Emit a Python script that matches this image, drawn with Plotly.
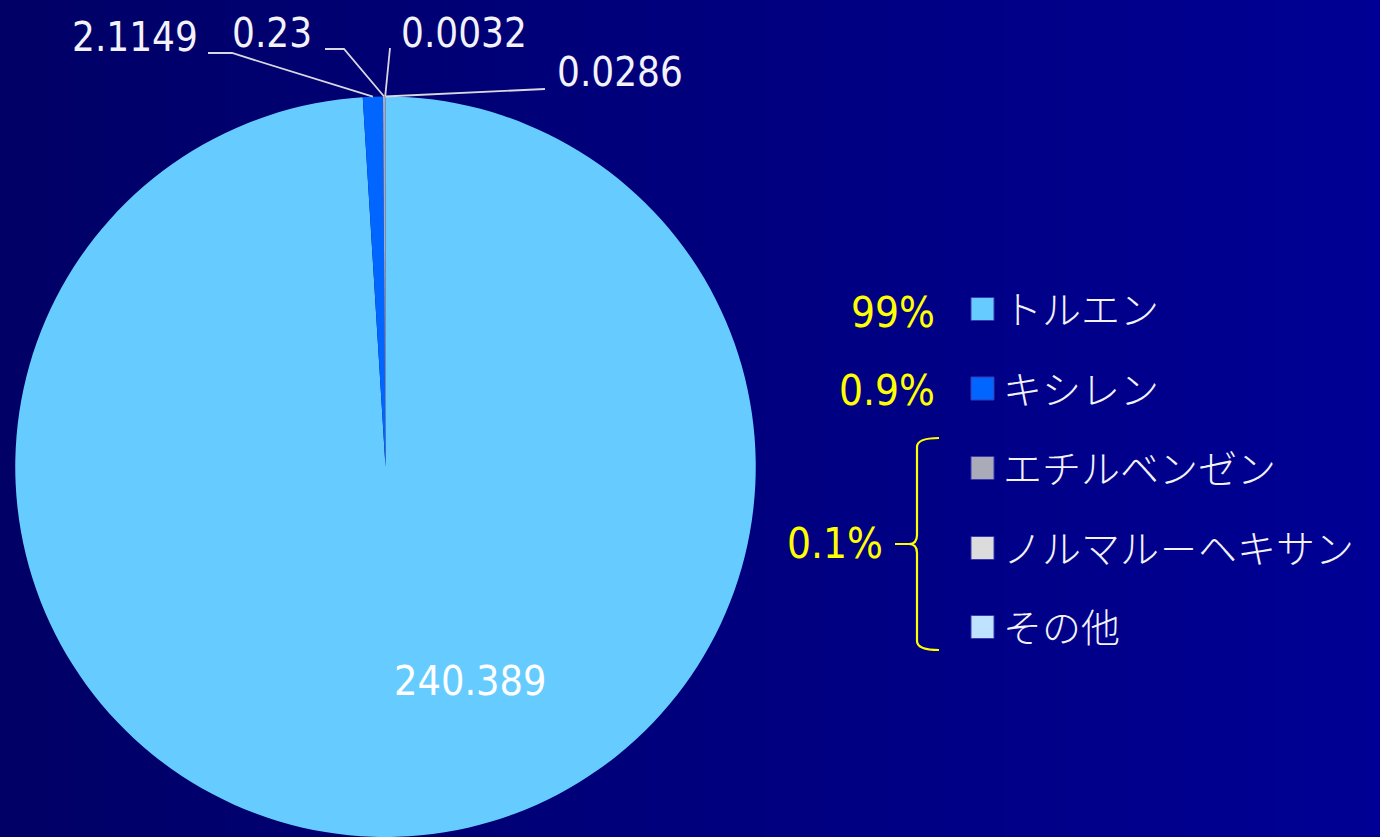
import math
import plotly.graph_objects as go

# --- data -------------------------------------------------------------
labels = ["トルエン", "キシレン", "エチルベンゼン", "ノルマル－ヘキサン", "その他"]
values = [240.389, 2.1149, 0.23, 0.0032, 0.0286]
colors = ["#66CCFF", "#0066FF", "#AAAAB9", "#DCDCDC", "#BFE3FF"]

# share labels: the first two items individually, the remaining three as one group
pct_groups = [[0], [1], [2, 3, 4]]

# --- layout constants (pixels) ----------------------------------------
W, H = 1380, 837
PIE_X0, PIE_X1 = 14, 757
PIE_TOP = 96.5
NUM_FONT = "DejaVu Sans Condensed, DejaVu Sans, sans-serif"
JP_FONT = "Noto Sans CJK JP, sans-serif"
TEXT_COLOR = "#F2F2F8"
YELLOW = "#FFFF00"

# pie geometry implied by its domain
pie_r = min(PIE_X1 - PIE_X0, H - PIE_TOP) / 2
pie_cx = (PIE_X0 + PIE_X1) / 2
pie_cy = H - pie_r

fig = go.Figure()

# invisible trace so the pixel-space cartesian axes exist for shapes/annotations
fig.add_trace(go.Scatter(x=[], y=[], showlegend=False, hoverinfo="skip"))

fig.add_trace(go.Pie(
    labels=labels,
    values=values,
    marker=dict(colors=colors, line=dict(width=0)),
    sort=False,
    direction="clockwise",
    rotation=0,
    textinfo="none",
    hoverinfo="label+value",
    showlegend=False,
    domain=dict(x=[PIE_X0 / W, PIE_X1 / W], y=[0, (H - PIE_TOP) / H]),
))

shapes = []
annotations = []

# horizontal background gradient drawn as thin stripes
n_strips = 92
c_left, c_right = 102, 148
for i in range(n_strips):
    x0 = W * i / n_strips
    x1 = W * (i + 1) / n_strips + 1
    b = round(c_left + (c_right - c_left) * (i + 0.5) / n_strips)
    shapes.append(dict(type="rect", xref="x", yref="y", x0=x0, x1=x1, y0=0, y1=H,
                       fillcolor=f"rgb(0,0,{b})", line=dict(width=0), layer="below"))

# angle (degrees clockwise from 12 o'clock) at the middle of each slice
total = sum(values)
mid_angles = []
acc = 0.0
for v in values:
    mid_angles.append(360 * (acc + v / 2) / total)
    acc += v


def rim_point(angle_deg):
    a = math.radians(angle_deg)
    return pie_cx + pie_r * math.sin(a), pie_cy - pie_r * math.cos(a)


# value labels of the small slices with their leader lines:
# (label centre, leader knee points from the label side)
callouts = {
    1: ((135, 37), [(208, 53), (232, 53)]),
    2: ((272, 33), [(325, 49), (344, 49)]),
    3: ((464, 33), [(390, 48)]),
    4: ((620, 72), [(545, 89)]),
}
for idx, ((tx, ty), knees) in callouts.items():
    ex, ey = rim_point(mid_angles[idx])
    pts = knees + [(ex, ey)]
    path = "M " + " L ".join(f"{x:.2f},{y:.2f}" for x, y in pts)
    shapes.append(dict(type="path", xref="x", yref="y", path=path,
                       line=dict(color="#D8D8E0", width=1.8), layer="above"))
    annotations.append(dict(x=tx, y=ty, xref="x", yref="y", text=str(values[idx]),
                            showarrow=False, xanchor="center", yanchor="middle",
                            font=dict(family=NUM_FONT, size=40, color=TEXT_COLOR)))

# value of the dominant slice, inside the pie
annotations.append(dict(x=470, y=681, xref="x", yref="y", text=str(values[0]),
                        showarrow=False, xanchor="center", yanchor="middle",
                        font=dict(family=NUM_FONT, size=41, color="#FFFFFF")))

# legend: coloured squares with names
legend_y = [309, 388.5, 468, 548, 627]
sq = 23
for name, col, ly in zip(labels, colors, legend_y):
    shapes.append(dict(type="rect", xref="x", yref="y", x0=971, x1=971 + sq,
                       y0=ly - sq / 2, y1=ly + sq / 2, fillcolor=col,
                       line=dict(color="#3A3AB0", width=1), layer="above"))
    annotations.append(dict(x=1001, y=ly - 2, xref="x", yref="y", text=name,
                            showarrow=False, xanchor="left", yanchor="middle",
                            font=dict(family=JP_FONT, size=39, color=TEXT_COLOR,
                                      weight=300)))

# share-of-total labels in yellow
pct_pos = [(937, 312), (937, 390), (885, 543)]
for gi, (grp, (px, py)) in enumerate(zip(pct_groups, pct_pos)):
    share = 100 * sum(values[i] for i in grp) / total
    txt = f"{share:.0f}%" if share >= 10 else f"{share:.1f}%"
    annotations.append(dict(x=px, y=py, xref="x", yref="y", text=txt,
                            showarrow=False, xanchor="right", yanchor="middle",
                            font=dict(family=NUM_FONT, size=42, color=YELLOW)))

# brace joining the grouped items
brace = ("M 939,438 Q 917,438 917,447 L 917,535 Q 917,544 909,544 L 895,544 "
         "M 909,544 Q 917,544 917,553 L 917,641 Q 917,650 939,650")
shapes.append(dict(type="path", xref="x", yref="y", path=brace,
                   line=dict(color=YELLOW, width=2.2), layer="above"))

fig.update_layout(
    width=W, height=H,
    margin=dict(l=0, r=0, t=0, b=0),
    paper_bgcolor="#00007D",
    plot_bgcolor="rgba(0,0,0,0)",
    xaxis=dict(range=[0, W], visible=False, fixedrange=True),
    yaxis=dict(range=[H, 0], visible=False, fixedrange=True),
    shapes=shapes,
    annotations=annotations,
    showlegend=False,
)

fig.write_html("out.html")
